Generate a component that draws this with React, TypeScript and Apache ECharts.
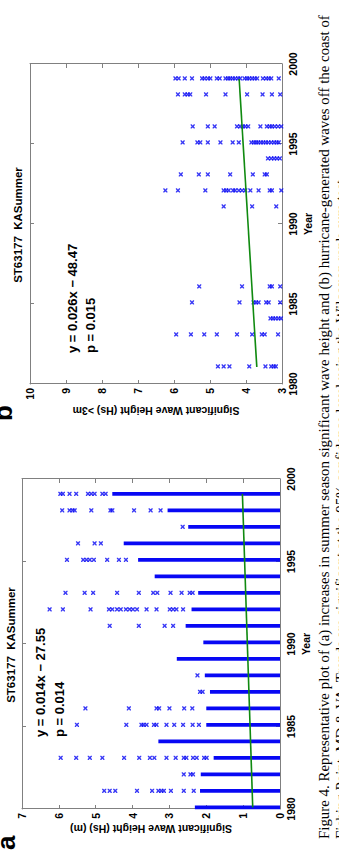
import React, { useEffect, useRef } from "react";
import * as echarts from "echarts";

// ---------- data (a) ----------
const yearsA = [1980, 1981, 1982, 1983, 1984, 1985, 1986, 1987, 1988, 1989, 1990, 1991, 1992, 1993, 1994, 1995, 1996, 1997, 1998, 1999];
const bandTopA = [2.31, 2.17, 2.15, 1.8, 3.3, 2.0, 2.0, 1.9, 2.04, 2.8, 2.08, 2.56, 2.4, 2.22, 3.4, 3.85, 4.24, 2.49, 3.05, 4.55];
const outliersA = [
  [],
  [4.77, 4.62, 4.47, 3.88, 3.47, 3.3, 3.22, 3.15, 2.96, 2.61, 2.34],
  [2.61, 2.43, 2.36],
  [5.95, 5.53, 5.16, 4.82, 4.23, 3.82, 3.53, 3.41, 3.08, 2.83, 2.61, 2.54, 2.36, 2.26, 2.06, 1.99],
  [],
  [5.51, 4.17, 3.76, 3.7, 3.62, 3.42, 3.35, 3.08, 2.87, 2.63, 2.37, 2.2],
  [5.28, 4.1, 3.35, 3.28, 3.0, 2.6, 2.38],
  [2.17, 2.1],
  [2.24],
  [],
  [],
  [4.62, 3.83, 3.13, 2.9],
  [6.25, 5.89, 5.14, 4.64, 4.55, 4.42, 4.32, 4.18, 4.08, 3.99, 3.88, 3.62, 3.35, 2.99, 2.9, 2.81, 2.63],
  [5.82, 5.3, 5.07, 4.42, 3.83, 3.44, 3.33, 2.97, 2.67, 2.45, 2.37],
  [],
  [5.78, 5.34, 5.25, 5.16, 5.05, 4.69, 4.37, 4.18],
  [5.48, 5.03, 4.86],
  [2.64],
  [5.91, 5.71, 5.63, 5.57, 5.12, 4.6, 4.55, 3.96, 3.51, 3.24],
  [5.96, 5.89, 5.71, 5.53, 5.21, 5.12, 5.03, 4.82, 4.73],
];
const trendA = [[1980.1, 0.74], [1999.1, 1.02]];

// ---------- data (b) ----------
const yearsB = [1981, 1983, 1984, 1985, 1986, 1991, 1992, 1993, 1994, 1995, 1996, 1998, 1999];
const pointsB = [
  [4.78, 4.62, 4.46, 3.91, 3.46, 3.3, 3.23, 3.17],
  [5.94, 5.53, 5.16, 4.81, 4.25, 3.83, 3.56, 3.48, 3.11],
  [3.32, 3.25, 3.18, 3.1, 3.03],
  [5.5, 4.18, 3.79, 3.72, 3.65, 3.44, 3.37, 3.05],
  [5.3, 4.11, 3.34, 3.28, 3.05],
  [4.62, 3.83, 3.16],
  [6.24, 5.89, 5.13, 4.62, 4.55, 4.48, 4.36, 4.3, 4.2, 4.11, 4.02, 3.88, 3.65, 3.34, 3.28, 3.02],
  [5.81, 5.31, 5.06, 4.44, 3.81, 3.48, 3.42],
  [3.39, 3.3, 3.22, 3.14, 3.06],
  [5.76, 5.35, 5.27, 5.06, 4.71, 4.37, 4.2, 3.85, 3.78, 3.72, 3.66, 3.59, 3.52, 3.45, 3.38, 3.3, 3.22, 3.15, 3.09],
  [5.48, 5.06, 4.87, 4.25, 4.16, 4.09, 4.02, 3.94, 3.6, 3.42, 3.34, 3.28, 3.2, 3.11, 3.02],
  [5.89, 5.7, 5.62, 5.55, 5.11, 4.57, 3.97, 3.54, 3.28, 3.05],
  [5.96, 5.87, 5.7, 5.5, 5.22, 5.15, 5.06, 4.99, 4.81, 4.73, 4.57, 4.5, 4.44, 4.37, 4.3, 4.22, 4.16, 4.04, 3.97, 3.91, 3.83, 3.76, 3.69, 3.53, 3.44, 3.37, 3.3, 3.09],
];
const trendB = [[1981.06, 3.7], [1999.06, 4.19]];

// ---------- texts ----------
const titleA = "ST63177  KASummer";
const titleB = "ST63177  KASummer";
const eqA = ["y = 0.014x \u2212 27.55", "p = 0.014"];
const eqB = ["y = 0.026x \u2212 48.47", "p = 0.015"];
const yNameA = "Significant Wave Height (Hs) (m)";
const yNameB = "Significant Wave Height (Hs) >3m";
const xName = "Year";
const caption = [
  "Figure 4. Representative plot of (a) increases in summer season significant wave height and (b) hurricane-generated waves off the coast of",
  "Fishing Point, MD & VA. Trends are significant at the 95% confidence level using the Wilcoxon rank-sum test.",
];

const BLUE = "#0808f4";
const GREEN = "#108a10";
const XMARK = "path://M0,0L2.4,0L5,2.6L7.6,0L10,0L10,2.4L7.4,5L10,7.6L10,10L7.6,10L5,7.4L2.4,10L0,10L0,7.6L2.6,5L0,2.4Z";
const SANS = "'Liberation Sans', Arial, sans-serif";
const SERIF = "'Liberation Serif', 'Times New Roman', serif";
const YEAR_SHIFT = 0.1;

function scatterData(years: number[], lists: number[][]) {
  const out: number[][] = [];
  years.forEach((y, i) => lists[i].forEach((v) => out.push([y + YEAR_SHIFT, v])));
  return out;
}

function axesFor(grid: number, ymin: number, ymax: number, yName: string, yGap: number) {
  const lineStyle = { color: "#808080", width: 1 };
  const label = { color: "#000", fontWeight: "bold", fontSize: 10.5, fontFamily: SANS };
  const nameStyle = { color: "#000", fontWeight: "bold", fontSize: 10.5, fontFamily: SANS };
  const xa = [
    {
      gridIndex: grid, type: "value", min: 1980, max: 2000, interval: 5, position: "bottom",
      axisLine: { onZero: false, lineStyle }, axisTick: { inside: true, length: 4, lineStyle },
      axisLabel: { ...label, margin: 5, formatter: (v: number) => String(v) }, splitLine: { show: false },
      name: xName, nameLocation: "middle", nameGap: 18, nameTextStyle: nameStyle,
    },
    {
      gridIndex: grid, type: "value", min: 1980, max: 2000, interval: 5, position: "top",
      axisLine: { onZero: false, lineStyle }, axisTick: { inside: true, length: 4, lineStyle },
      axisLabel: { show: false }, splitLine: { show: false },
    },
  ];
  const ya = [
    {
      gridIndex: grid, type: "value", min: ymin, max: ymax, interval: 1, position: "left",
      axisLine: { onZero: false, lineStyle }, axisTick: { inside: true, length: 4, lineStyle },
      axisLabel: { ...label, margin: 4 }, splitLine: { show: false },
      name: yName, nameLocation: "middle", nameGap: yGap, nameTextStyle: nameStyle,
    },
    {
      gridIndex: grid, type: "value", min: ymin, max: ymax, interval: 1, position: "right",
      axisLine: { onZero: false, lineStyle }, axisTick: { inside: true, length: 4, lineStyle },
      axisLabel: { show: false }, splitLine: { show: false },
    },
  ];
  return { xa, ya };
}

export default function App() {
  const ref = useRef<HTMLDivElement>(null);
  useEffect(() => {
    const chart = echarts.init(ref.current!, null, { renderer: "svg" });
    const A = axesFor(0, 0, 7, yNameA, 14);
    const B = axesFor(1, 3, 10, yNameB, 21);
    const txt = (text: string, x: number, y: number, extra: any) => ({
      type: "text", x, y, silent: true,
      style: { text, fill: "#000", fontFamily: SANS, fontSize: 13, align: "left", verticalAlign: "middle", ...extra },
    });
    const option: any = {
      animation: false,
      backgroundColor: "#fff",
      grid: [
        { left: 48, top: 22, width: 330, height: 258 },
        { left: 473, top: 30, width: 320, height: 252 },
      ],
      xAxis: [...A.xa, ...B.xa],
      yAxis: [...A.ya, ...B.ya],
      series: [
        {
          type: "bar", xAxisIndex: 0, yAxisIndex: 0, barWidth: 3.6,
          data: yearsA.map((y, i) => [y + YEAR_SHIFT, bandTopA[i]]),
          itemStyle: { color: BLUE },
        },
        {
          type: "scatter", xAxisIndex: 0, yAxisIndex: 0, symbol: XMARK, symbolSize: 4.2,
          data: scatterData(yearsA, outliersA), itemStyle: { color: BLUE },
        },
        {
          type: "line", xAxisIndex: 0, yAxisIndex: 0, data: trendA, showSymbol: false,
          lineStyle: { color: GREEN, width: 1.6 }, z: 5,
        },
        {
          type: "scatter", xAxisIndex: 2, yAxisIndex: 2, symbol: XMARK, symbolSize: 4.2,
          data: scatterData(yearsB, pointsB), itemStyle: { color: BLUE },
        },
        {
          type: "line", xAxisIndex: 2, yAxisIndex: 2, data: trendB, showSymbol: false,
          lineStyle: { color: GREEN, width: 1.6 }, z: 5,
        },
      ],
      graphic: [
        txt(titleA, 212, 11, { align: "center", fontWeight: "bold", fontSize: 11.5 }),
        txt(titleB, 632, 18, { align: "center", fontWeight: "bold", fontSize: 11.5 }),
        txt(eqA[0], 120, 40, { fontWeight: "bold" }),
        txt(eqA[1], 120, 59, { fontWeight: "bold" }),
        txt(eqB[0], 504, 72, { fontWeight: "bold" }),
        txt(eqB[1], 504, 90, { fontWeight: "bold" }),
        txt("a", 7, 18.5, { fontSize: 26, fontWeight: "bold", verticalAlign: "bottom" }),
        txt("b", 436, 16, { fontSize: 26, fontWeight: "bold", verticalAlign: "bottom" }),
        txt(caption[0], 18, 324, { fontFamily: SERIF, fontSize: 14.9 }),
        txt(caption[1], 18, 341, { fontFamily: SERIF, fontSize: 14.9 }),
      ],
    };
    chart.setOption(option);
    return () => chart.dispose();
  }, []);
  return (
    <div style={{ position: "fixed", left: 0, top: 0, width: 339, height: 857, overflow: "hidden", background: "#fff" }}>
      <div
        ref={ref}
        style={{
          position: "absolute", left: 0, top: 0, width: 857, height: 339,
          transformOrigin: "0 0", transform: "translateY(857px) rotate(-90deg)",
        }}
      />
    </div>
  );
}
